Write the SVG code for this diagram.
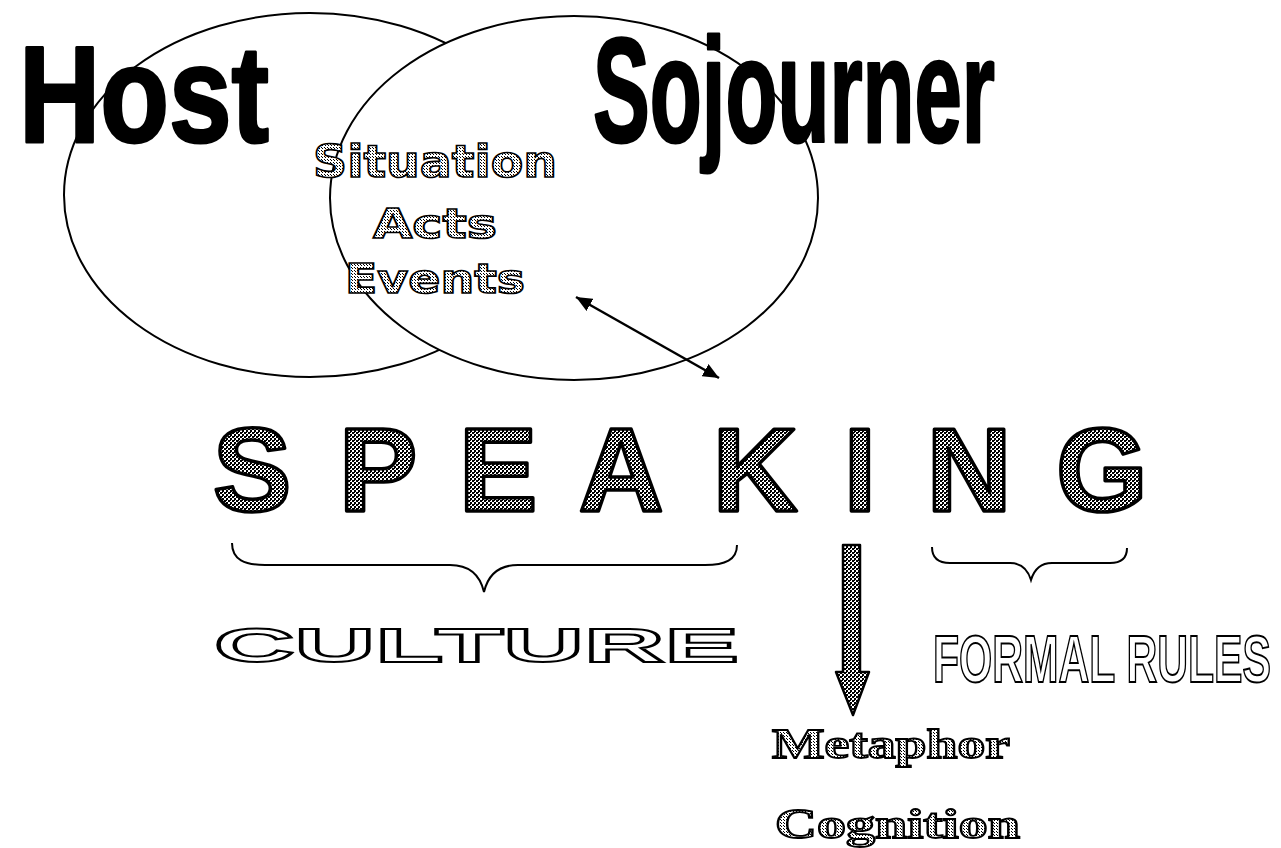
<svg xmlns="http://www.w3.org/2000/svg" width="1281" height="848" viewBox="0 0 1281 848">
<defs>
<pattern id="dk" width="4" height="4" patternUnits="userSpaceOnUse">
<rect width="4" height="4" fill="#fff"/>
<rect x="0" y="0" width="2" height="2" fill="#000"/>
<rect x="2" y="2" width="2" height="2" fill="#000"/>
<rect x="2" y="0" width="1" height="1" fill="#000"/>
</pattern>
<pattern id="lt" width="3" height="3" patternUnits="userSpaceOnUse">
<rect width="3" height="3" fill="#fff"/>
<rect x="0" y="0" width="1" height="1" fill="#000"/>
<rect x="1" y="1" width="1" height="1" fill="#000"/>
</pattern>
<marker id="ah" viewBox="0 0 16 14" refX="16" refY="7" markerWidth="16" markerHeight="14" markerUnits="userSpaceOnUse" orient="auto-start-reverse">
<path d="M0,0 L16,7 L0,14 Z" fill="#000"/>
</marker>
<style>
.ell{fill:#fff;stroke:#000;stroke-width:2}
.big{font-family:"Liberation Sans",Arial,sans-serif;font-weight:bold;fill:#000;stroke:#000;stroke-width:3;stroke-linejoin:round}
.dot{font-family:"DejaVu Sans",sans-serif;font-weight:bold;fill:url(#lt);stroke:#000;stroke-width:1.6;text-anchor:middle}
.spk{font-family:"Liberation Sans",Arial,sans-serif;font-weight:bold;font-size:118px;fill:url(#dk);stroke:#000;stroke-width:3.5;stroke-linejoin:round;text-anchor:middle}
.out{font-family:"Liberation Sans",Arial,sans-serif;font-weight:bold;fill:#fff;stroke:#000;stroke-width:2}
.ser{font-family:"Liberation Serif","Times New Roman",serif;font-weight:bold;fill:url(#lt);stroke:#000;stroke-width:1.8}
.brace{fill:none;stroke:#000;stroke-width:2}
</style>
</defs>
<rect width="1281" height="848" fill="#fff"/>
<g id="host">
<ellipse class="ell" cx="310" cy="195" rx="246" ry="182"/>
</g>
<g id="sojourner">
<ellipse class="ell" cx="574" cy="198" rx="244" ry="182"/>
</g>
<g id="host-label">
<text class="big" x="19" y="142" font-size="138" textLength="250" lengthAdjust="spacingAndGlyphs">Host</text>
</g>
<g id="sojourner-label">
<text class="big" x="593" y="142" font-size="149" textLength="402" lengthAdjust="spacingAndGlyphs">Sojourner</text>
</g>
<g id="overlap">
<text class="dot" x="435" y="177" font-size="44" textLength="244" lengthAdjust="spacingAndGlyphs">Situation</text>
<text class="dot" x="435" y="238" font-size="40" textLength="124" lengthAdjust="spacingAndGlyphs">Acts</text>
<text class="dot" x="435" y="293" font-size="40" textLength="180" lengthAdjust="spacingAndGlyphs">Events</text>
</g>
<g id="speaking">
<text class="spk" x="252" y="511">S</text>
<text class="spk" x="378" y="511">P</text>
<text class="spk" x="498" y="511">E</text>
<text class="spk" x="621" y="511">A</text>
<text class="spk" x="755" y="511">K</text>
<text class="spk" x="860" y="511">I</text>
<text class="spk" x="969" y="511">N</text>
<text class="spk" x="1102" y="511">G</text>
</g>
<g id="culture">
<text class="out" x="214" y="662" font-size="49" textLength="525" lengthAdjust="spacingAndGlyphs">CULTURE</text>
</g>
<g id="formal-rules">
<text class="out" x="933" y="682" font-size="67" textLength="338" lengthAdjust="spacingAndGlyphs">FORMAL RULES</text>
</g>
<g id="metaphor">
<text class="ser" x="772" y="758" font-size="42" textLength="238" lengthAdjust="spacingAndGlyphs">Metaphor</text>
</g>
<g id="cognition">
<text class="ser" x="775" y="838" font-size="42" textLength="245" lengthAdjust="spacingAndGlyphs">Cognition</text>
</g>
<g id="connectors">
<line x1="576" y1="297" x2="719" y2="378" stroke="#000" stroke-width="2.5" marker-start="url(#ah)" marker-end="url(#ah)"/>
<path class="brace" d="M232,543 C232,560 245,565 265,565 L450,565 C470,565 480,575 484,592 C488,575 498,565 518,565 L705,565 C725,565 737,560 737,545"/>
<path class="brace" d="M932,547 C932,558 938,563 950,563 L1010,563 C1022,563 1028,570 1031,580 C1034,570 1040,563 1052,563 L1110,563 C1122,563 1127,558 1127,548"/>
<polygon points="843,545 860,545 860,672 869,672 853,715 836,672 843,672" fill="url(#dk)" stroke="#000" stroke-width="2.5" stroke-linejoin="round"/>
</g>
</svg>
